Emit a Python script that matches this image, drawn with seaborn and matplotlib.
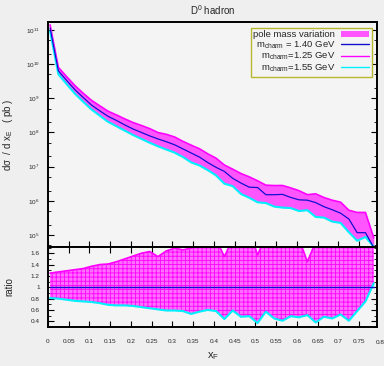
import matplotlib
import matplotlib.pyplot as plt
import matplotlib.ticker as mticker
import matplotlib.transforms as mtransforms
import seaborn as sns
import numpy as np
import pandas as pd
from matplotlib.patches import Patch
from matplotlib.lines import Line2D

matplotlib.use('Agg')

# x_E bin centres
x_e = [0.005, 0.025, 0.045, 0.065, 0.085, 0.105, 0.125, 0.145, 0.165, 0.185,
       0.205, 0.225, 0.245, 0.265, 0.285, 0.305, 0.325, 0.345, 0.365, 0.385,
       0.405, 0.425, 0.445, 0.465, 0.485, 0.505, 0.525, 0.545, 0.565, 0.585,
       0.605, 0.625, 0.645, 0.665, 0.685, 0.705, 0.725, 0.745, 0.765, 0.785]

# log10 of dsigma/dx_E for m_charm = 1.40 GeV
log_central = [11.05, 9.80, 9.52, 9.25, 9.02, 8.80, 8.63, 8.47, 8.35, 8.22,
               8.10, 8.00, 7.90, 7.81, 7.73, 7.64, 7.52, 7.40, 7.28, 7.12,
               6.98, 6.86, 6.66, 6.52, 6.40, 6.39, 6.18, 6.18, 6.19, 6.10,
               6.03, 6.02, 5.95, 5.83, 5.74, 5.64, 5.47, 5.07, 5.07, 4.63]

# ratio m_charm = 1.25 GeV / 1.40 GeV
ratio_125 = [1.25, 1.27, 1.29, 1.31, 1.33, 1.37, 1.40, 1.41, 1.45, 1.50,
             1.55, 1.60, 1.63, 1.54, 1.64, 1.69, 1.66, 1.69, 1.75, 1.80,
             1.85, 1.54, 1.85, 1.90, 2.00, 1.57, 1.90, 1.85, 1.82, 1.90,
             1.85, 1.45, 1.80, 1.85, 1.90, 2.10, 1.80, 3.90, 3.90, 1.95]

# ratio m_charm = 1.55 GeV / 1.40 GeV
ratio_155 = [0.81, 0.80, 0.78, 0.76, 0.75, 0.74, 0.72, 0.69, 0.68, 0.68,
             0.67, 0.65, 0.63, 0.61, 0.59, 0.59, 0.58, 0.53, 0.57, 0.60,
             0.58, 0.44, 0.59, 0.48, 0.49, 0.37, 0.57, 0.45, 0.41, 0.49,
             0.47, 0.51, 0.38, 0.48, 0.45, 0.52, 0.41, 0.58, 0.75, 1.07]

ratio_ticks = [0.4, 0.6, 0.8, 1.0, 1.2, 1.4, 1.6]
ratio_minor = [0.3, 0.5, 0.7, 0.9, 1.1, 1.3, 1.5, 1.7]

df = pd.DataFrame({'x': x_e, 'm140': 10 ** np.array(log_central),
                   'r125': ratio_125, 'r155': ratio_155})
df['m125'] = df['m140'] * df['r125']
df['m155'] = df['m140'] * df['r155']
df['one'] = 1.0

sns.set_theme(style='ticks')
plt.rcParams['font.family'] = ['Liberation Sans', 'DejaVu Sans']
plt.rcParams['mathtext.fontset'] = 'custom'
plt.rcParams['mathtext.rm'] = 'Liberation Sans'
plt.rcParams['mathtext.it'] = 'Liberation Sans'
plt.rcParams['hatch.linewidth'] = 0.6

fig = plt.figure(figsize=(3.84, 3.66), dpi=100, facecolor='#efefef')
ax = fig.add_axes([0.125, 0.325, 0.857, 0.615])
axr = fig.add_axes([0.125, 0.1066, 0.857, 0.2186], sharex=ax)

magenta = '#ff00ff'
cyan = '#00f0ff'
blue = '#1010d0'

# top panel
ax.fill_between(df['x'], df['m155'], df['m125'], color='#ff55ff', lw=0)
sns.lineplot(data=df, x='x', y='m125', ax=ax, color=magenta, lw=1.2)
sns.lineplot(data=df, x='x', y='m155', ax=ax, color=cyan, lw=1.5)
sns.lineplot(data=df, x='x', y='m140', ax=ax, color=blue, lw=0.9)
ax.set_yscale('log')
ax.set_ylim(10 ** 4.65, 10 ** 11.23)
ax.set_xlim(0, 0.793)
ax.set_title('D$^0$ hadron', fontsize=7, pad=5)
ax.set_ylabel(r'd$\sigma$  / d x$_\mathrm{E}$   ( pb )', fontsize=7, labelpad=8)
ax.set_xlabel('')
ax.yaxis.set_major_locator(mticker.LogLocator(base=10, numticks=20))
ax.yaxis.set_minor_locator(mticker.LogLocator(base=10, subs=(2.0, 5.0), numticks=20))
ax.yaxis.set_minor_formatter(mticker.NullFormatter())

handles = [Patch(facecolor='#ff55ff', edgecolor='none'),
           Line2D([], [], color=blue, lw=1),
           Line2D([], [], color=magenta, lw=1),
           Line2D([], [], color=cyan, lw=1)]
labels = ['pole mass variation',
          r'm$_\mathrm{charm}$ = 1.40 GeV',
          r'm$_\mathrm{charm}$=1.25 GeV',
          r'm$_\mathrm{charm}$=1.55 GeV']
leg = ax.legend(handles, labels, loc='upper right', bbox_to_anchor=(0.985, 0.975),
                markerfirst=False, fontsize=6.8, frameon=True, fancybox=False,
                handlelength=3.0, handleheight=0.55, labelspacing=0.0,
                borderpad=0.3, handletextpad=0.6, borderaxespad=0)
leg.get_frame().set_edgecolor('#b8b830')
leg.get_frame().set_linewidth(1.0)
leg.get_frame().set_facecolor('#f4f4f4')
leg.get_frame().set_alpha(1)

# ratio panel
axr.fill_between(df['x'], df['r155'], df['r125'], facecolor='#ff70ff',
                 edgecolor=magenta, hatch='++++', lw=0)
sns.lineplot(data=df, x='x', y='r125', ax=axr, color=magenta, lw=1.2)
sns.lineplot(data=df, x='x', y='r155', ax=axr, color=cyan, lw=1.5)
sns.lineplot(data=df, x='x', y='one', ax=axr, color=blue, lw=1.0)
axr.set_ylim(0.30, 1.71)
axr.set_xlim(0, 0.793)
axr.set_ylabel('ratio', fontsize=7, labelpad=12)
axr.set_xlabel('x$_\\mathrm{F}$', fontsize=8, labelpad=4)
axr.set_yticks(ratio_ticks, ['%g' % v for v in ratio_ticks])
axr.set_yticks(ratio_minor, minor=True)
axr.yaxis.set_minor_formatter(mticker.NullFormatter())
axr.xaxis.set_major_locator(mticker.MultipleLocator(0.05))
axr.xaxis.set_major_formatter(mticker.FuncFormatter(lambda v, p: '%g' % round(v, 2)))
axr.xaxis.set_minor_locator(mticker.NullLocator())
trans = mtransforms.blended_transform_factory(axr.transData, axr.transAxes)
axr.text(0.8, -0.165, '0.8', transform=trans, ha='center', va='top', fontsize=4.6, clip_on=False)

for a in (ax, axr):
    a.set_facecolor('#f4f4f4')
    for s in a.spines.values():
        s.set_linewidth(1.4)
        s.set_color('black')
    a.tick_params(which='both', direction='in', right=True, top=True,
                  labelsize=4.6, color='black', pad=6)
    a.tick_params(which='major', length=4, width=0.8)
    a.tick_params(which='minor', length=2, width=0.6)
ax.tick_params(axis='x', top=False, labelbottom=False)
axr.tick_params(axis='x', pad=9)

plt.savefig('out.png', dpi=100, facecolor=fig.get_facecolor())
